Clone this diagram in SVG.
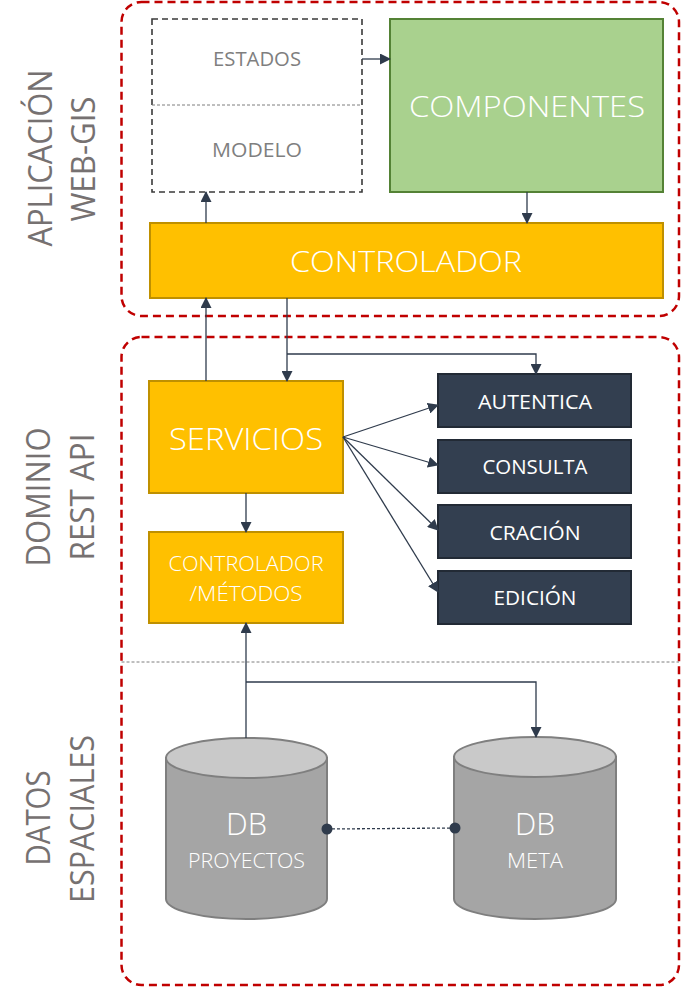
<svg xmlns="http://www.w3.org/2000/svg" width="681" height="988" viewBox="0 0 681 988">
<defs>
<style>
.grp{fill:none;stroke:#C00000;stroke-width:2.5;stroke-dasharray:8 5}
.side{font-family:"Open Sans","Liberation Sans",sans-serif;font-weight:400;font-size:32px;fill:#767171}
.t{font-family:"Open Sans","Liberation Sans",sans-serif;text-anchor:middle}
.w{fill:#ffffff}
.g{fill:#7f7f7f}
.yel{fill:#FFC000;stroke:#BF9000;stroke-width:2}
.grn{fill:#A9D18E;stroke:#548235;stroke-width:2}
.drk{fill:#333F50;stroke:#222A35;stroke-width:2}
.cyl{fill:#A5A5A5;stroke:#7F7F7F;stroke-width:2}
.cyltop{fill:#C9C9C9;stroke:#7F7F7F;stroke-width:2}
.ln{fill:none;stroke:#2F3B4C;stroke-width:1.3}
</style>
<marker id="ah" markerWidth="11" markerHeight="11" refX="10" refY="5.5" orient="auto" markerUnits="userSpaceOnUse">
<path d="M0,0 L11,5.5 L0,11 Z" fill="#2F3B4C"/>
</marker>
</defs>

<g id="layer-labels">
<text class="side" transform="translate(52,158) rotate(-90)" text-anchor="middle" textLength="177" lengthAdjust="spacingAndGlyphs">APLICACIÓN</text>
<text class="side" transform="translate(95,159) rotate(-90)" text-anchor="middle" textLength="125" lengthAdjust="spacingAndGlyphs">WEB-GIS</text>
<text class="side" transform="translate(50,497) rotate(-90)" text-anchor="middle" textLength="139" lengthAdjust="spacingAndGlyphs">DOMINIO</text>
<text class="side" transform="translate(94,497) rotate(-90)" text-anchor="middle" textLength="127" lengthAdjust="spacingAndGlyphs">REST API</text>
<text class="side" transform="translate(50,818) rotate(-90)" text-anchor="middle" textLength="95" lengthAdjust="spacingAndGlyphs">DATOS</text>
<text class="side" transform="translate(94,819) rotate(-90)" text-anchor="middle" textLength="168" lengthAdjust="spacingAndGlyphs">ESPACIALES</text>
</g>

<g id="group-webgis">
<rect class="grp" x="121.5" y="2" width="557.5" height="314" rx="20"/>
</g>
<g id="group-rest-datos">
<rect class="grp" x="121.5" y="337" width="557.5" height="648" rx="20"/>
<line x1="121.5" y1="662" x2="679" y2="662" stroke="#7f7f7f" stroke-width="1" stroke-dasharray="3 2"/>
</g>

<g id="estados-modelo">
<rect x="152" y="19" width="210" height="173" fill="#ffffff" stroke="#3A3A3A" stroke-width="1.6" stroke-dasharray="6 4"/>
<line x1="152" y1="105" x2="362" y2="105" stroke="#7f7f7f" stroke-width="1" stroke-dasharray="3 2"/>
<text class="t g" x="257" y="66" font-size="20" textLength="88" lengthAdjust="spacingAndGlyphs">ESTADOS</text>
<text class="t g" x="257" y="157" font-size="20" textLength="90" lengthAdjust="spacingAndGlyphs">MODELO</text>
</g>

<g id="componentes">
<rect class="grn" x="390" y="19" width="273" height="173"/>
<text class="t w" x="527" y="117" font-size="30" font-weight="300" textLength="236" lengthAdjust="spacingAndGlyphs">COMPONENTES</text>
</g>

<g id="controlador">
<rect class="yel" x="150" y="223" width="513" height="75"/>
<text class="t w" x="406" y="272" font-size="30" font-weight="300" textLength="232" lengthAdjust="spacingAndGlyphs">CONTROLADOR</text>
</g>

<g id="servicios">
<rect class="yel" x="149" y="381" width="194" height="112"/>
<text class="t w" x="246" y="450" font-size="32" font-weight="300" textLength="154" lengthAdjust="spacingAndGlyphs">SERVICIOS</text>
</g>

<g id="controlador-metodos">
<rect class="yel" x="149" y="532" width="194" height="91"/>
<text class="t w" x="246" y="571" font-size="20" font-weight="300" textLength="155" lengthAdjust="spacingAndGlyphs">CONTROLADOR</text>
<text class="t w" x="246" y="601" font-size="20" font-weight="300" textLength="113" lengthAdjust="spacingAndGlyphs">/MÉTODOS</text>
</g>

<g id="autentica">
<rect class="drk" x="438" y="374" width="193" height="53"/>
<text class="t w" x="535" y="409" font-size="20" textLength="114" lengthAdjust="spacingAndGlyphs">AUTENTICA</text>
</g>
<g id="consulta">
<rect class="drk" x="438" y="440" width="193" height="53"/>
<text class="t w" x="535" y="474" font-size="20" textLength="105" lengthAdjust="spacingAndGlyphs">CONSULTA</text>
</g>
<g id="cracion">
<rect class="drk" x="438" y="505" width="193" height="53"/>
<text class="t w" x="535" y="540" font-size="20" textLength="91" lengthAdjust="spacingAndGlyphs">CRACIÓN</text>
</g>
<g id="edicion">
<rect class="drk" x="438" y="571" width="193" height="53"/>
<text class="t w" x="535" y="605" font-size="20" textLength="83" lengthAdjust="spacingAndGlyphs">EDICIÓN</text>
</g>

<g id="db-proyectos">
<path class="cyl" d="M166,758 L166,899 A80.5,20 0 0 0 327,899 L327,758 Z"/>
<ellipse class="cyltop" cx="246.5" cy="758" rx="80.5" ry="20"/>
<text class="t w" x="246.5" y="835" font-size="32" font-weight="300" textLength="41" lengthAdjust="spacingAndGlyphs">DB</text>
<text class="t w" x="246.5" y="868" font-size="20" font-weight="300" textLength="117" lengthAdjust="spacingAndGlyphs">PROYECTOS</text>
</g>

<g id="db-meta">
<path class="cyl" d="M454,757 L454,899 A81,20 0 0 0 616,899 L616,757 Z"/>
<ellipse class="cyltop" cx="535" cy="757" rx="81" ry="20"/>
<text class="t w" x="535" y="835" font-size="32" font-weight="300" textLength="40" lengthAdjust="spacingAndGlyphs">DB</text>
<text class="t w" x="535" y="868" font-size="20" font-weight="300" textLength="56" lengthAdjust="spacingAndGlyphs">META</text>
</g>

<g id="connectors">
<line class="ln" x1="362" y1="59" x2="390" y2="59" marker-end="url(#ah)"/>
<line class="ln" x1="206" y1="223" x2="206" y2="192" marker-end="url(#ah)"/>
<line class="ln" x1="527" y1="192" x2="527" y2="223" marker-end="url(#ah)"/>
<line class="ln" x1="206" y1="381" x2="206" y2="298" marker-end="url(#ah)"/>
<line class="ln" x1="287" y1="298" x2="287" y2="381" marker-end="url(#ah)"/>
<polyline class="ln" points="287,354 536,354 536,374" marker-end="url(#ah)"/>
<line class="ln" x1="343" y1="437" x2="438" y2="405" marker-end="url(#ah)"/>
<line class="ln" x1="343" y1="437" x2="438" y2="465" marker-end="url(#ah)"/>
<line class="ln" x1="343" y1="437" x2="438" y2="530" marker-end="url(#ah)"/>
<line class="ln" x1="343" y1="437" x2="438" y2="592" marker-end="url(#ah)"/>
<line class="ln" x1="246" y1="493" x2="246" y2="532" marker-end="url(#ah)"/>
<line class="ln" x1="246" y1="738" x2="246" y2="623" marker-end="url(#ah)"/>
<polyline class="ln" points="246,682 536,682 536,737" marker-end="url(#ah)"/>
<line x1="327" y1="829" x2="455" y2="828" stroke="#2F3B4C" stroke-width="1.3" stroke-dasharray="3 2"/>
<circle cx="327" cy="829" r="5.5" fill="#2F3B4C"/>
<circle cx="455" cy="828" r="5.5" fill="#2F3B4C"/>
</g>
</svg>
